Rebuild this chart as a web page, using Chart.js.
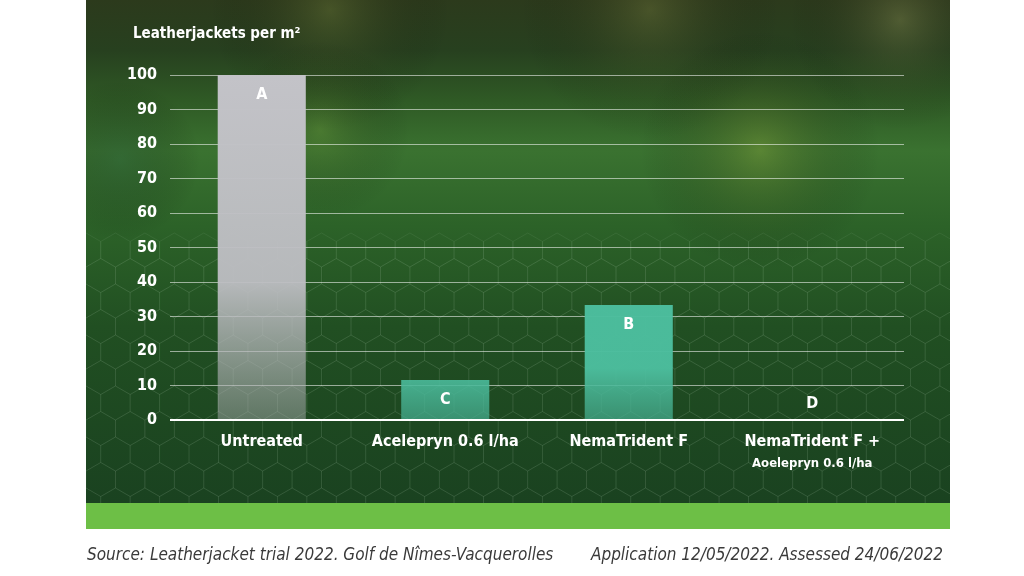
<!DOCTYPE html>
<html>
<head>
<meta charset="utf-8">
<script src="https://cdn.jsdelivr.net/npm/chart.js@4.4.1/dist/chart.umd.min.js"></script>
<style>
  html, body { margin: 0; padding: 0; background: #fff; }
  #wrap { position: relative; width: 1024px; height: 576px; }
</style>
</head>
<body>
<div id="wrap"><canvas id="myChart" width="1024" height="576"></canvas></div>
<script>
"use strict";
var categories = ["Untreated", "Acelepryn 0.6 l/ha", "NemaTrident F", "NemaTrident F +"];
var subLabels = ["", "", "", "Aoelepryn 0.6 l/ha"];
var leatherjackets = [100, 11.6, 33.3, 0];
var letters = ["A", "C", "B", "D"];
var yTicks = [0, 10, 20, 30, 40, 50, 60, 70, 80, 90, 100];

var FONT = "'Liberation Sans Narrow', 'DejaVu Sans Condensed', 'Liberation Sans', sans-serif";

// panel background: blurred turf photo look
var backdrop = {
    id: "backdrop",
    beforeDraw: function (chart) {
        var c = chart.ctx;
        c.save();
        c.fillStyle = "#ffffff";
        c.fillRect(0, 0, 1024, 576);
        var g = c.createLinearGradient(0, 0, 0, 503);
        g.addColorStop(0, "#2c3a1c");
        g.addColorStop(0.1, "#27401f");
        g.addColorStop(0.2, "#2f5a25");
        g.addColorStop(0.3, "#3a7230");
        g.addColorStop(0.45, "#2c6228");
        g.addColorStop(0.65, "#214f22");
        g.addColorStop(1, "#1a4220");
        c.fillStyle = g;
        c.fillRect(86, 0, 864, 503);
        // soft highlights
        var spots = [
            [330, 10, 120, "rgba(120,130,60,0.35)"],
            [650, 10, 130, "rgba(140,140,70,0.3)"],
            [900, 20, 110, "rgba(150,150,90,0.35)"],
            [760, 150, 120, "rgba(150,170,60,0.35)"],
            [320, 130, 90, "rgba(120,160,60,0.3)"],
            [120, 160, 80, "rgba(40,90,60,0.35)"]
        ];
        c.beginPath();
        c.rect(86, 0, 864, 503);
        c.clip();
        spots.forEach(function (s) {
            var r = c.createRadialGradient(s[0], s[1], 0, s[0], s[1], s[2]);
            r.addColorStop(0, s[3]);
            r.addColorStop(1, "rgba(0,0,0,0)");
            c.fillStyle = r;
            c.fillRect(s[0] - s[2], s[1] - s[2], s[2] * 2, s[2] * 2);
        });
        // faint hex net on the lower part
        c.strokeStyle = "rgba(200,230,200,0.08)";
        c.lineWidth = 1;
        var R = 17;
        for (var row = 0; row < 16; row++) {
            var yy = 250 + row * R * 1.5;
            for (var col = 0; col < 30; col++) {
                var xx = 86 + col * R * Math.sqrt(3) + (row % 2 ? R * Math.sqrt(3) / 2 : 0);
                c.beginPath();
                for (var k = 0; k < 6; k++) {
                    var a = Math.PI / 3 * k + Math.PI / 6;
                    var px = xx + R * Math.cos(a), py = yy + R * Math.sin(a);
                    if (k === 0) c.moveTo(px, py); else c.lineTo(px, py);
                }
                c.closePath();
                c.stroke();
            }
        }
        c.restore();
        c.save();
        c.fillStyle = "#6dbf46";
        c.fillRect(86, 503, 864, 26);
        // titles and source
        c.fillStyle = "#ffffff";
        c.font = "bold 15px " + FONT;
        c.textBaseline = "middle";
        c.fillText("Leatherjackets per m\u00b2", 133, 34);
        c.fillStyle = "#3a3a3a";
        c.font = "italic 17px " + FONT;
        c.fillText("Source: Leatherjacket trial 2022. Golf de N\u00eemes-Vacquerolles", 87, 556);
        c.textAlign = "right";
        c.fillText("Application 12/05/2022. Assessed 24/06/2022", 943, 556);
        c.restore();
    },
    afterDraw: function (chart) {
        var c = chart.ctx;
        var meta = chart.getDatasetMeta(0);
        var xs = chart.scales.x;
        c.save();
        c.fillStyle = "#ffffff";
        c.textAlign = "center";
        c.textBaseline = "middle";
        c.font = "bold 16px " + FONT;
        meta.data.forEach(function (bar, i) {
            var y = leatherjackets[i] > 5 ? bar.y + 20 : bar.y - 16;
            c.fillText(letters[i], bar.x, y);
        });
        c.font = "bold 13px " + FONT;
        subLabels.forEach(function (s, i) {
            if (s) c.fillText(s, xs.getPixelForValue(i), 464);
        });
        // zero line
        var y0 = chart.scales.y.getPixelForValue(0);
        c.strokeStyle = "#ffffff";
        c.lineWidth = 2;
        c.beginPath();
        c.moveTo(chart.chartArea.left, y0);
        c.lineTo(chart.chartArea.right, y0);
        c.stroke();
        c.restore();
    }
};

function barFill(context) {
    var chart = context.chart;
    var area = chart.chartArea;
    if (!area) return "#4cbf9e";
    var g = chart.ctx.createLinearGradient(0, area.top, 0, area.bottom);
    if (context.dataIndex === 0) {
        g.addColorStop(0, "rgba(195,195,200,1)");
        g.addColorStop(0.6, "rgba(190,190,195,0.95)");
        g.addColorStop(1, "rgba(175,175,180,0.45)");
    } else {
        g.addColorStop(0, "rgba(76,190,158,1)");
        g.addColorStop(0.85, "rgba(76,190,158,0.97)");
        g.addColorStop(1, "rgba(70,175,145,0.7)");
    }
    return g;
}

var ctx = document.getElementById("myChart").getContext("2d");
var myChart = new Chart(ctx, {
    type: "bar",
    data: {
        labels: categories,
        datasets: [
            {
                data: leatherjackets,
                backgroundColor: barFill,
                borderWidth: 0,
                barPercentage: 0.48,
                categoryPercentage: 1,
            },
        ],
    },
    options: {
        responsive: false,
        animation: false,
        layout: {
            padding: { left: 86, right: 120, top: 75, bottom: 0 },
        },
        plugins: {
            legend: { display: false },
            tooltip: { enabled: false },
        },
        scales: {
            x: {
                grid: { display: false, drawTicks: false },
                border: { display: false },
                ticks: {
                    color: "#ffffff",
                    font: { family: FONT, size: 16, weight: "bold" },
                    padding: 12,
                    maxRotation: 0,
                },
                afterFit: function (scale) {
                    scale.height = 156;
                },
            },
            y: {
                min: 0,
                max: 100,
                afterBuildTicks: function (scale) {
                    scale.ticks = yTicks.map(function (v) { return { value: v }; });
                },
                grid: { color: "rgba(255,255,255,0.55)", lineWidth: 1, drawTicks: false },
                border: { display: false },
                ticks: {
                    color: "#ffffff",
                    font: { family: FONT, size: 16, weight: "bold" },
                    padding: 13,
                },
                afterFit: function (scale) {
                    scale.width = 84;
                },
            },
        },
    },
    plugins: [backdrop],
});
</script>
</body>
</html>
